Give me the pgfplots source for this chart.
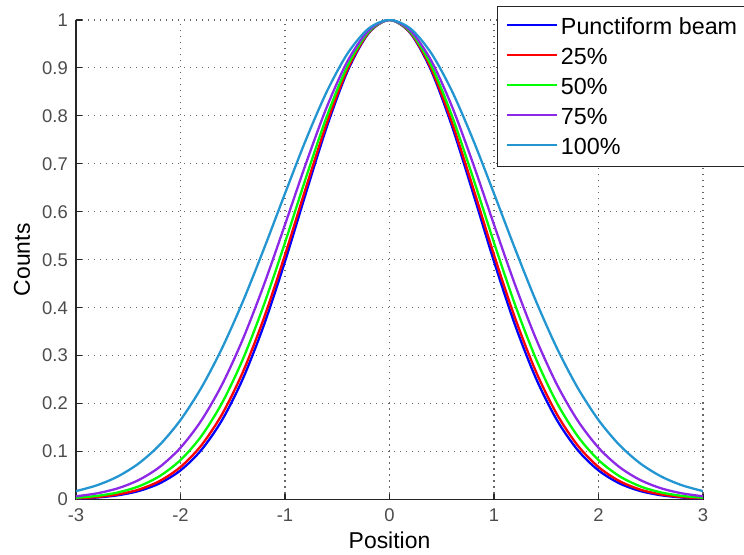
\documentclass[border=0pt]{standalone}
\usepackage{pgfplots}
\pgfplotsset{compat=1.18}
\usepackage{fontspec}
\setmainfont{Liberation Sans}
\definecolor{cBlue}{RGB}{0,0,255}
\definecolor{cRed}{RGB}{255,0,0}
\definecolor{cGreen}{RGB}{0,255,0}
\definecolor{cPurple}{RGB}{140,40,230}
\definecolor{cCyan}{RGB}{35,150,210}
\begin{document}
\begin{tikzpicture}
\begin{axis}[
  at={(0,0)}, anchor=south west,
  scale only axis, width=627bp, height=479.5bp,
  xmin=-3, xmax=3, ymin=0, ymax=1,
  enlargelimits=false,
  xtick={-3,-2,...,3},
  ytick={0,0.1,0.2,0.3,0.4,0.5,0.6,0.7,0.8,0.9,1},
  /pgf/number format/assume math mode=true,
  axis lines*=left,
  axis line style={-, black!85, line width=1.3bp},
  tick align=inside, major tick length=6bp,
  tick style={black!85, line width=1.1bp},
  grid=major,
  grid style={black!60, line width=1.1bp, dash pattern=on 1.4bp off 4.6bp},
  ticklabel style={font=\fontsize{18.5}{20}\selectfont, text=black!70},
  xticklabel style={anchor=base, inner sep=0pt, yshift=-22bp},
  yticklabel style={anchor=east, inner sep=0pt, xshift=-8bp},
  xlabel={Position}, ylabel={Counts},
  label style={font=\fontsize{23}{26}\selectfont},
  xlabel style={at={(axis description cs:0.5,-0.1018)}, anchor=base},
  ylabel style={at={(axis description cs:-0.0734,0.5)}, anchor=base},
  legend cell align=left,
  legend image code/.code={\draw[#1] (0bp,1.5bp) -- (50bp,1.5bp);},
  legend style={at={(rel axis cs:0.6715,1.029)}, anchor=north west,
    draw=black!85, line width=1.3bp, fill=white,
    font=\fontsize{23.4}{26}\selectfont,
    inner xsep=8bp, inner ysep=5bp, row sep=0bp,
    nodes={inner xsep=3bp, inner ysep=2bp, text height=20.7bp, text depth=5.3bp}},
  every axis plot/.append style={line width=2.3bp, smooth},
]
\addplot[cBlue] coordinates {
(-3.0,0.0018) (-2.8,0.0041) (-2.6,0.0088) (-2.4,0.0177) (-2.2,0.0337) (-2.0,0.0607)
(-1.8,0.1034) (-1.6,0.1665) (-1.4,0.2534) (-1.2,0.3648) (-1.0,0.4964) (-0.8,0.6388)
(-0.6,0.7772) (-0.4,0.8940) (-0.2,0.9724) (0.0,1.0000) (0.2,0.9724) (0.4,0.8940)
(0.6,0.7772) (0.8,0.6388) (1.0,0.4964) (1.2,0.3648) (1.4,0.2534) (1.6,0.1665)
(1.8,0.1034) (2.0,0.0607) (2.2,0.0337) (2.4,0.0177) (2.6,0.0088) (2.8,0.0041) (3.0,0.0018)};
\addlegendentry{Punctiform beam}
\addplot[cRed] coordinates {
(-3.0,0.0023) (-2.8,0.0051) (-2.6,0.0106) (-2.4,0.0207) (-2.2,0.0385) (-2.0,0.0678)
(-1.8,0.1130) (-1.6,0.1786) (-1.4,0.2674) (-1.2,0.3795) (-1.0,0.5102) (-0.8,0.6501)
(-0.6,0.7849) (-0.4,0.8979) (-0.2,0.9735) (0.0,1.0000) (0.2,0.9735) (0.4,0.8979)
(0.6,0.7849) (0.8,0.6501) (1.0,0.5102) (1.2,0.3795) (1.4,0.2674) (1.6,0.1786)
(1.8,0.1130) (2.0,0.0678) (2.2,0.0385) (2.4,0.0207) (2.6,0.0106) (2.8,0.0051) (3.0,0.0023)};
\addlegendentry{25\%}
\addplot[cGreen] coordinates {
(-3.0,0.0036) (-2.8,0.0075) (-2.6,0.0147) (-2.4,0.0274) (-2.2,0.0487) (-2.0,0.0823)
(-1.8,0.1323) (-1.6,0.2023) (-1.4,0.2942) (-1.2,0.4071) (-1.0,0.5357) (-0.8,0.6707)
(-0.6,0.7988) (-0.4,0.9049) (-0.2,0.9753) (0.0,1.0000) (0.2,0.9753) (0.4,0.9049)
(0.6,0.7988) (0.8,0.6707) (1.0,0.5357) (1.2,0.4071) (1.4,0.2942) (1.6,0.2023)
(1.8,0.1323) (2.0,0.0823) (2.2,0.0487) (2.4,0.0274) (2.6,0.0147) (2.8,0.0075) (3.0,0.0036)};
\addlegendentry{50\%}
\addplot[cPurple] coordinates {
(-3.0,0.0067) (-2.8,0.0128) (-2.6,0.0233) (-2.4,0.0406) (-2.2,0.0677) (-2.0,0.1080)
(-1.8,0.1649) (-1.6,0.2407) (-1.4,0.3361) (-1.2,0.4488) (-1.0,0.5733) (-0.8,0.7004)
(-0.6,0.8185) (-0.4,0.9148) (-0.2,0.9780) (0.0,1.0000) (0.2,0.9780) (0.4,0.9148)
(0.6,0.8185) (0.8,0.7004) (1.0,0.5733) (1.2,0.4488) (1.4,0.3361) (1.6,0.2407)
(1.8,0.1649) (2.0,0.1080) (2.2,0.0677) (2.4,0.0406) (2.6,0.0233) (2.8,0.0128) (3.0,0.0067)};
\addlegendentry{75\%}
\addplot[cCyan] coordinates {
(-3.0,0.0175) (-2.8,0.0296) (-2.6,0.0480) (-2.4,0.0752) (-2.2,0.1137) (-2.0,0.1658)
(-1.8,0.2333) (-1.6,0.3166) (-1.4,0.4146) (-1.2,0.5237) (-1.0,0.6381) (-0.8,0.7501)
(-0.6,0.8507) (-0.4,0.9306) (-0.2,0.9822) (0.0,1.0000) (0.2,0.9822) (0.4,0.9306)
(0.6,0.8507) (0.8,0.7501) (1.0,0.6381) (1.2,0.5237) (1.4,0.4146) (1.6,0.3166)
(1.8,0.2333) (2.0,0.1658) (2.2,0.1137) (2.4,0.0752) (2.6,0.0480) (2.8,0.0296) (3.0,0.0175)};
\addlegendentry{100\%}
\end{axis}
\pgfresetboundingbox
\path[use as bounding box] (-76bp,-55.5bp) rectangle (668bp,499.5bp);
\end{tikzpicture}
\end{document}
